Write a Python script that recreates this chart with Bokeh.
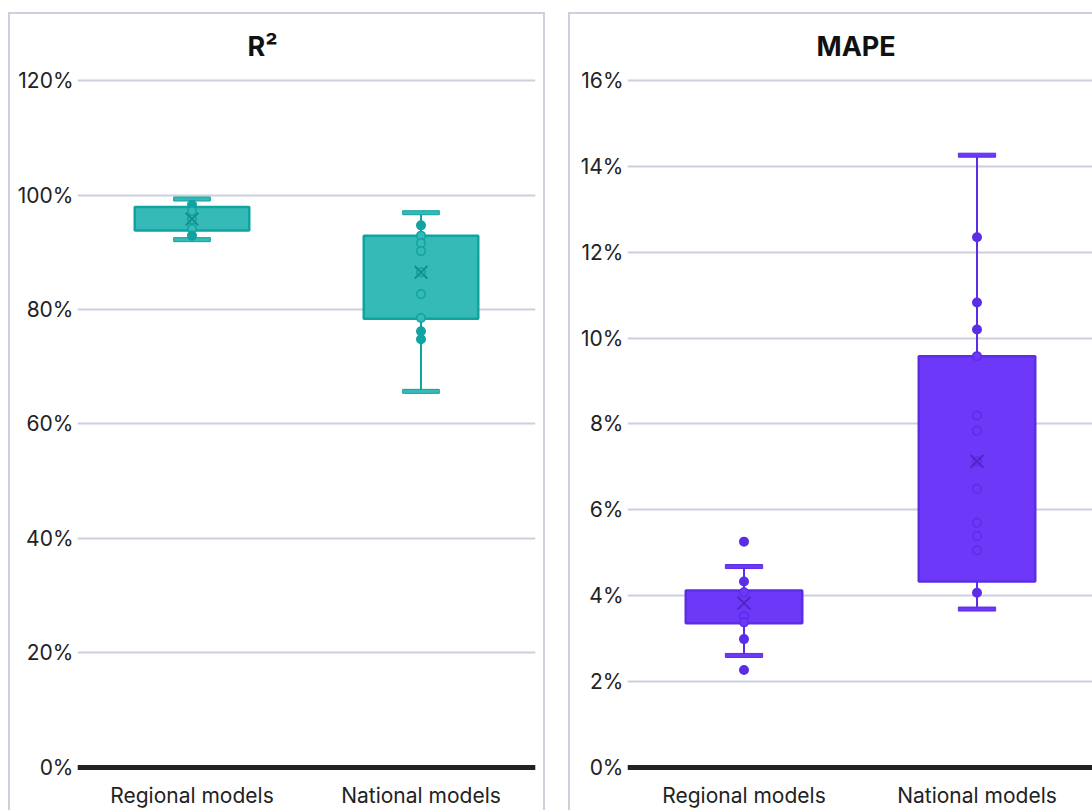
from bokeh.plotting import figure
from bokeh.layouts import row
from bokeh.models import (ColumnDataSource, Range1d, FactorRange, FixedTicker,
                          PrintfTickFormatter, Span)
from bokeh.embed import file_html
from bokeh.resources import INLINE

categories = ["Regional models", "National models"]

# R² (%) box statistics per category
r2_min = [92.2, 65.7]
r2_q1 = [93.8, 78.4]
r2_median = [95.0, 90.1]
r2_q3 = [97.9, 92.9]
r2_max = [99.3, 96.9]
r2_mean = [95.8, 86.5]
r2_points_regional = [98.3, 97.2, 95.7, 94.1, 92.9]
r2_points_national = [94.7, 92.9, 91.6, 90.2, 86.5, 82.7, 78.5, 76.2, 74.8]
r2_ticks = [0, 20, 40, 60, 80, 100, 120]

# MAPE (%) box statistics per category
mape_min = [2.61, 3.69]
mape_q1 = [3.36, 4.33]
mape_median = [3.69, 6.49]
mape_q3 = [4.12, 9.58]
mape_max = [4.68, 14.26]
mape_mean = [3.83, 7.13]
mape_points_regional = [5.26, 4.33, 4.08, 3.53, 3.38, 2.99, 2.27]
mape_points_national = [12.35, 10.83, 10.20, 9.58, 8.20, 7.84, 7.13, 6.49,
                        5.70, 5.39, 5.06, 4.07]
mape_ticks = [0, 2, 4, 6, 8, 10, 12, 14, 16]

FONT = "Inter"
GRID = "#cdcfdd"
BORDER = "2px solid #cdcfdd"


def make_panel(title, title_offset, mins, q1s, meds, q3s, maxs, means,
               pts_reg, pts_nat, ticks, yr, fill, line, med_color, mean_color,
               width, height, mbl, mbr, styles, margin):
    p = figure(x_range=FactorRange(*categories), y_range=Range1d(*yr),
               width=width, height=height, output_backend="svg",
               toolbar_location=None, min_border_left=mbl,
               min_border_right=mbr, min_border_top=64, min_border_bottom=41)
    p.styles = styles
    p.margin = margin
    p.outline_line_color = None
    p.background_fill_color = "white"
    p.border_fill_color = "white"

    p.title.text = title
    p.title.align = "left"
    p.title.offset = title_offset
    p.title.vertical_align = "top"
    p.title.standoff = 28
    p.title.text_font = FONT
    p.title.text_font_size = "27px"
    p.title.text_font_style = "bold"
    p.title.text_color = "#111111"

    p.xgrid.grid_line_color = None
    p.ygrid.grid_line_color = GRID
    p.ygrid.grid_line_width = 2
    p.yaxis.ticker = FixedTicker(ticks=ticks)
    p.yaxis.formatter = PrintfTickFormatter(format="%d%%")
    for ax in (p.xaxis, p.yaxis):
        ax.axis_line_color = None
        ax.major_tick_line_color = None
        ax.minor_tick_line_color = None
        ax.major_tick_out = 0
        ax.major_tick_in = 0
        ax.minor_tick_out = 0
        ax.major_label_text_font = FONT
        ax.major_label_text_font_size = "21px"
        ax.major_label_text_color = "#222222"
    p.yaxis.major_label_standoff = 4
    p.xaxis.major_label_standoff = 11

    src = ColumnDataSource(dict(cat=categories, lo=mins, q1=q1s, med=meds,
                                q3=q3s, hi=maxs, mean=means))
    # whiskers
    p.segment(x0="cat", y0="q3", x1="cat", y1="hi", source=src,
              line_color=line, line_width=2)
    p.segment(x0="cat", y0="q1", x1="cat", y1="lo", source=src,
              line_color=line, line_width=2)
    # caps
    p.rect(x="cat", y="hi", width=0.16, height=4, height_units="screen",
           source=src, fill_color=fill, line_color=line, line_width=1)
    p.rect(x="cat", y="lo", width=0.16, height=4, height_units="screen",
           source=src, fill_color=fill, line_color=line, line_width=1)
    # boxes
    p.vbar(x="cat", bottom="q1", top="q3", width=0.5, source=src,
           fill_color=fill, line_color=line, line_width=2.5)
    # medians
    p.rect(x="cat", y="med", width=0.5, height=0, source=src,
           fill_color=None, line_color=med_color, line_width=2.5)

    # individual points
    xs, ys, fills = [], [], []
    for i, pts in enumerate((pts_reg, pts_nat)):
        for v in pts:
            xs.append(categories[i])
            ys.append(v)
            fills.append(fill if q1s[i] <= v <= q3s[i] else line)
    psrc = ColumnDataSource(dict(x=xs, y=ys, f=fills))
    p.scatter(x="x", y="y", source=psrc, size=8.5, fill_color="f",
              line_color=line, line_width=1.5)
    # mean
    p.scatter(x="cat", y="mean", source=src, marker="x", size=18,
              line_color=mean_color, line_width=2)

    p.add_layout(Span(location=0, dimension="width", line_color="#222222",
                      line_width=5))
    return p


p1 = make_panel("R²", 170, r2_min, r2_q1, r2_median, r2_q3, r2_max, r2_mean,
                r2_points_regional, r2_points_national, r2_ticks,
                (-0.7, 120.35), "#36bab7", "#0fa3a1", "#0c8f8d", "#128f8f",
                537, 798, 67, 12,
                {"border-top": BORDER, "border-left": BORDER,
                 "border-right": BORDER}, (12, 0, 0, 8))
p2 = make_panel("MAPE", 189, mape_min, mape_q1, mape_median, mape_q3,
                mape_max, mape_mean, mape_points_regional,
                mape_points_national, mape_ticks, (-0.093, 16.046),
                "#6d38f7", "#5b2ee6", "#5128cc", "#4f27c4",
                524, 798, 57, 1,
                {"border-top": BORDER, "border-left": BORDER}, (12, 0, 0, 0))

layout = row(p1, p2, spacing=23)

with open("out.html", "w") as f:
    f.write(file_html(layout, INLINE))
